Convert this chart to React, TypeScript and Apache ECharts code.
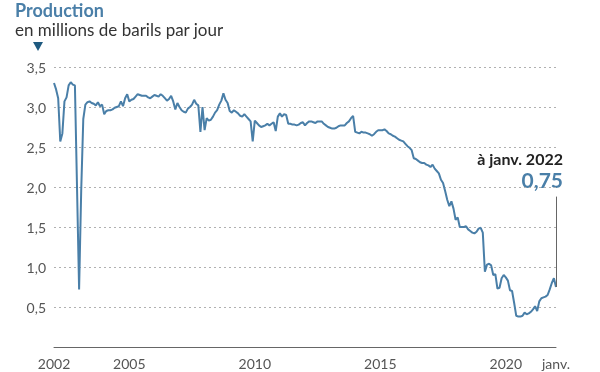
import React, { useEffect, useRef } from "react";
import * as echarts from "echarts";

const startYear = 2002;
const production: number[] = [
  // 2002
  3.3, 3.22, 3.11, 2.57, 2.67, 3.07, 3.12, 3.27, 3.31, 3.28, 3.27, 2.0,
  // 2003
  0.72, 1.95, 2.85, 3.03, 3.06, 3.07, 3.05, 3.04, 3.02, 3.06, 3.01, 3.03,
  // 2004
  2.91, 2.95, 2.96, 2.96, 2.97, 2.99, 3.0, 3.01, 3.07, 3.01, 3.11, 3.16,
  // 2005
  3.07, 3.09, 3.1, 3.13, 3.16, 3.15, 3.14, 3.14, 3.14, 3.12, 3.11, 3.13,
  // 2006
  3.15, 3.14, 3.13, 3.16, 3.14, 3.11, 3.08, 3.1, 3.14, 3.07, 2.97, 3.05,
  // 2007
  3.0, 2.96, 2.94, 2.93, 2.98, 3.0, 3.03, 3.09, 3.04, 3.02, 2.69, 3.0,
  // 2008
  2.71, 2.86, 2.83, 2.84, 2.88, 2.93, 2.96, 3.03, 3.08, 3.17, 3.09, 3.05,
  // 2009
  2.95, 2.93, 2.96, 2.94, 2.92, 2.89, 2.88, 2.91, 2.88, 2.85, 2.82, 2.57,
  // 2010
  2.83, 2.8, 2.77, 2.75, 2.76, 2.77, 2.79, 2.77, 2.79, 2.81, 2.7, 2.88,
  // 2011
  2.92, 2.88, 2.91, 2.9, 2.79, 2.79, 2.78, 2.78, 2.77, 2.78, 2.8, 2.81,
  // 2012
  2.77, 2.8, 2.82, 2.82, 2.81, 2.8, 2.82, 2.82, 2.82, 2.79, 2.77, 2.75,
  // 2013
  2.74, 2.73, 2.73, 2.74, 2.76, 2.77, 2.77, 2.77, 2.8, 2.82, 2.86, 2.89,
  // 2014
  2.69, 2.68, 2.67, 2.69, 2.68, 2.68, 2.67, 2.66, 2.64, 2.66, 2.69, 2.71,
  // 2015
  2.71, 2.71, 2.72, 2.7, 2.67, 2.66, 2.64, 2.63, 2.61, 2.59, 2.58, 2.57,
  // 2016
  2.54, 2.51, 2.49, 2.46, 2.36, 2.35, 2.33, 2.31, 2.3, 2.3, 2.28, 2.27,
  // 2017
  2.25, 2.28, 2.23, 2.2, 2.17, 2.09, 2.05, 1.95, 1.84, 1.76, 1.82, 1.73,
  // 2018
  1.59, 1.62, 1.5, 1.5, 1.5, 1.51, 1.47, 1.45, 1.43, 1.42, 1.44, 1.48,
  // 2019
  1.49, 1.43, 0.94, 1.03, 1.04, 1.02, 0.9, 0.91, 0.73, 0.74, 0.86, 0.9,
  // 2020
  0.87, 0.83, 0.71, 0.7, 0.55, 0.39, 0.38, 0.38, 0.39, 0.43, 0.41, 0.42,
  // 2021
  0.44, 0.47, 0.51, 0.45, 0.57, 0.61, 0.62, 0.63, 0.65, 0.72, 0.8, 0.86,
  // 2022
  0.75,
];

const months: string[] = production.map((_, i) => {
  const y = startYear + Math.floor(i / 12);
  const m = (i % 12) + 1;
  return `${y}-${m < 10 ? "0" + m : m}`;
});

const xTickLabels: Record<string, string> = {
  "2002-01": "2002",
  "2005-01": "2005",
  "2010-01": "2010",
  "2015-01": "2015",
  "2020-01": "2020",
  "2022-01": "janv.\n2022",
};

const yTicks = [0.5, 1, 1.5, 2, 2.5, 3, 3.5];

const lastValue = production[production.length - 1];
const lastLabel = "à janv. 2022";

const BLUE = "#4a7fa8";
const FONT = "Lato, 'Noto Sans', sans-serif";

export default function App() {
  const ref = useRef<HTMLDivElement>(null);
  useEffect(() => {
    if (!ref.current) return;
    const chart = echarts.init(ref.current, null, { renderer: "svg" });
    chart.setOption({
      animation: false,
      textStyle: { fontFamily: FONT },
      grid: {
        left: 54,
        right: 44,
        top: 67,
        bottom: 25,
        containLabel: false,
        outerBoundsMode: "none",
      },
      xAxis: {
        type: "category",
        data: months,
        boundaryGap: false,
        axisLine: { show: true, lineStyle: { color: "#666", width: 1 } },
        axisTick: { show: false },
        axisLabel: {
          interval: (_i: number, v: string) => v in xTickLabels,
          formatter: (v: string) => xTickLabels[v] ?? "",
          color: "#555",
          fontSize: 14,
          fontFamily: FONT,
          margin: 8,
          lineHeight: 16,
          verticalAlign: "top",
        },
        splitLine: { show: false },
      },
      yAxis: {
        type: "value",
        min: 0,
        max: 3.5,
        interval: 0.5,
        axisLine: { show: false },
        axisTick: { show: false },
        axisLabel: {
          color: "#555",
          fontSize: 14,
          fontFamily: FONT,
          margin: 8,
          formatter: (v: number) =>
            yTicks.includes(v) ? v.toFixed(1).replace(".", ",") : "",
        },
        splitLine: {
          show: true,
          lineStyle: { color: "#b0b0b0", type: [2, 3], width: 1 },
          showMinLine: false,
        },
      },
      graphic: [
        {
          type: "text",
          x: 15,
          y: 10,
          style: {
            text: "Production",
            fill: BLUE,
            font: `bold 18px ${FONT}`,
            lineHeight: 18,
            verticalAlign: "middle",
          },
        },
        {
          type: "text",
          x: 15,
          y: 29,
          style: {
            text: "en millions de barils par jour",
            fill: "#333",
            font: `17px ${FONT}`,
            lineHeight: 17,
            verticalAlign: "middle",
          },
        },
        {
          type: "polygon",
          shape: { points: [[33, 42], [43, 42], [38, 51]] },
          style: { fill: "#1f5a80" },
        },
        {
          type: "text",
          x: 563,
          y: 158,
          style: {
            text: lastLabel,
            fill: "#222",
            font: `bold 16px ${FONT}`,
            align: "right",
            verticalAlign: "middle",
          },
        },
        {
          type: "text",
          x: 563,
          y: 179,
          style: {
            text: lastValue.toFixed(2).replace(".", ","),
            fill: BLUE,
            font: `bold 21px ${FONT}`,
            align: "right",
            verticalAlign: "middle",
          },
        },
      ],
      series: [
        {
          type: "line",
          data: production,
          showSymbol: false,
          symbol: "none",
          lineStyle: { color: BLUE, width: 2 },
          markLine: {
            silent: true,
            symbol: "none",
            label: { show: false },
            lineStyle: { color: "#666", width: 1, type: "solid" },
            data: [
              [
                { coord: [months[months.length - 1], lastValue] },
                { coord: [months[months.length - 1], 1.88] },
              ],
            ],
          },
        },
      ],
    });
    return () => chart.dispose();
  }, []);
  return (
    <div
      ref={ref}
      style={{ position: "fixed", left: 0, top: 0, width: 600, height: 372 }}
    />
  );
}
